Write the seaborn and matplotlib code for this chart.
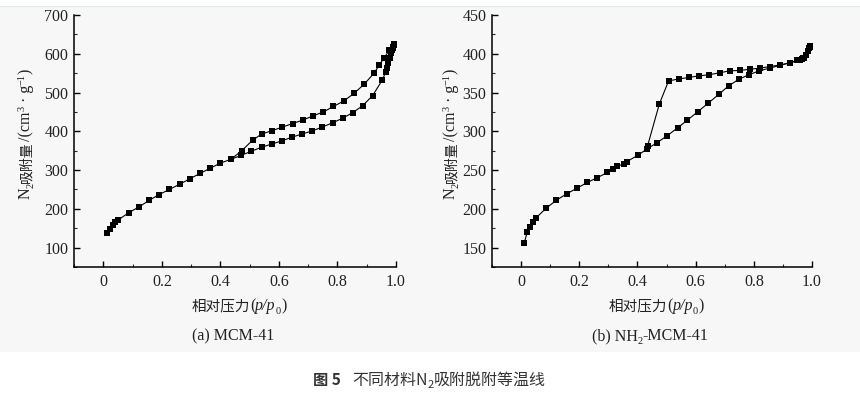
import matplotlib
matplotlib.use("Agg")
import matplotlib.pyplot as plt
from matplotlib.ticker import MultipleLocator
import seaborn as sns
import pandas as pd

# ---------------- data ----------------
# (a) MCM-41
a_ads_p = [0.013, 0.022, 0.033, 0.041, 0.052, 0.087, 0.122, 0.157, 0.191, 0.226,
           0.262, 0.297, 0.332, 0.366, 0.400, 0.437, 0.471, 0.504, 0.541, 0.575,
           0.609, 0.645, 0.679, 0.714, 0.748, 0.784, 0.818, 0.852, 0.886, 0.920,
           0.953, 0.965, 0.969, 0.974, 0.979, 0.983, 0.987, 0.991, 0.993]
a_ads_v = [138, 148, 159, 165, 172, 190, 205, 222, 237, 250,
           264, 278, 292, 305, 318, 328, 338, 348, 359, 367,
           375, 385, 393, 401, 411, 422, 434, 448, 466, 492,
           532, 553, 563, 576, 589, 602, 611, 618, 623]
a_des_p = [0.993, 0.991, 0.977, 0.960, 0.943, 0.925, 0.892, 0.857, 0.821, 0.786,
           0.752, 0.717, 0.682, 0.647, 0.612, 0.578, 0.541, 0.510, 0.473, 0.437]
a_des_v = [625, 614, 609, 590, 571, 550, 522, 498, 478, 464,
           450, 440, 429, 420, 411, 402, 393, 377, 350, 328]

# (b) NH2-MCM-41
b_ads_p = [0.011, 0.021, 0.032, 0.041, 0.052, 0.085, 0.121, 0.157, 0.192, 0.227,
           0.261, 0.297, 0.315, 0.331, 0.353, 0.364, 0.401, 0.434, 0.468, 0.503,
           0.538, 0.572, 0.608, 0.644, 0.679, 0.713, 0.748, 0.783, 0.819, 0.854,
           0.890, 0.925, 0.960, 0.970, 0.980, 0.986, 0.991, 0.993]
b_ads_v = [156, 170, 176.5, 182.5, 188.5, 200.5, 211, 219.5, 226.5, 234,
           240, 247, 251, 255, 258, 261, 269, 277.5, 285.5, 294.5,
           304.5, 314.5, 325.5, 336.5, 347.5, 358.5, 367, 373, 378, 381.5,
           385, 388.5, 392, 395, 398.5, 403, 407, 409]
b_des_p = [0.993, 0.990, 0.986, 0.980, 0.972, 0.965, 0.948, 0.925, 0.890, 0.854,
           0.822, 0.786, 0.751, 0.717, 0.683, 0.647, 0.612, 0.577, 0.542, 0.507,
           0.475, 0.435]
b_des_v = [410, 407, 403, 398.5, 395, 393, 391.5, 388.5, 385.5, 383.5,
           381.5, 380, 378.5, 378, 375.5, 373, 371.5, 369.5, 367.5, 365,
           335, 281.5]

xticks = [0, 0.2, 0.4, 0.6, 0.8, 1.0]
xtick_labels = ["0", "0.2", "0.4", "0.6", "0.8", "1.0"]
panels = [
    dict(ads_p=a_ads_p, ads_v=a_ads_v, des_p=a_des_p, des_v=a_des_v,
         ylim=(50, 700), ymaj=100, title=[("(a) MCM-41", 0, "normal", 11.5)],
         left=74, width=322, ylab_x=30),
    dict(ads_p=b_ads_p, ads_v=b_ads_v, des_p=b_des_p, des_v=b_des_v,
         ylim=(125, 450), ymaj=50,
         title=[("(b) NH", 0, "normal", 11.5), ("2", -1, "normal", 7.5),
                ("-MCM-41", 0, "normal", 11.5)],
         left=492, width=320, ylab_x=455),
]

# ---------------- figure ----------------
sns.set_theme(style="ticks")
serif = ["Liberation Serif", "Noto Sans CJK SC", "DejaVu Sans"]
plt.rcParams["font.family"] = serif

W, H = 860, 394
fig = plt.figure(figsize=(W / 100, H / 100), dpi=100)
fig.patch.set_facecolor("white")
renderer = fig.canvas.get_renderer()
txt_c = "#222222"


def compose(pieces, x, y, align="center", rotated=False, color=txt_c,
            family=serif, weight="normal"):
    """Place text pieces one after another (pixels, origin top-left).
    piece = (text, shift, style, size); shift -1 sub, +1 sup, 0 normal."""
    arts, adv = [], []
    for t, sh, st, sz in pieces:
        kw = dict(fontsize=sz, style=st, color=color, family=family,
                  weight=weight, ha="left", va="baseline")
        if rotated:
            kw.update(rotation=90, rotation_mode="anchor")
        a = fig.text(0, 0, t, **kw)
        bb = a.get_window_extent(renderer)
        arts.append((a, sh))
        adv.append(bb.height if rotated else bb.width)
    total = sum(adv)
    start = {"center": -total / 2, "left": 0, "right": -total}[align]
    pos = start
    for (a, sh), d in zip(arts, adv):
        off = {-1: 3.5, 0: 0, 1: -5.5}[sh]
        if rotated:
            px, py = x + off, y - pos  # y goes up the screen as text advances
            a.set_position((px / W, 1 - py / H))
        else:
            px, py = x + pos, y + off
            a.set_position((px / W, 1 - py / H))
        pos += d
    return arts


# light gray panel + top rule
bg = fig.add_axes([0, (H - 352) / H, 1, (352 - 6) / H])
bg.set_facecolor("#f7f7f7")
bg.set_xticks([]); bg.set_yticks([])
for s in bg.spines.values():
    s.set_visible(False)
bg.axhline(1, color="#dfe5e8", lw=1.5)
bg.set_zorder(0)

for pnl in panels:
    L, Wd = pnl["left"], pnl["width"]
    ax = fig.add_axes([L / W, (H - 267) / H, Wd / W, (267 - 15) / H])
    ax.set_facecolor("none")
    for p, v in ((pnl["ads_p"], pnl["ads_v"]), (pnl["des_p"], pnl["des_v"])):
        df = pd.DataFrame({"p": p, "v": v})
        sns.lineplot(data=df, x="p", y="v", sort=False, ax=ax, color="black",
                     lw=0.8, marker="s", markersize=4.4, markeredgewidth=0,
                     clip_on=False, estimator=None)
    ax.set_xlim(-0.1, 1.0)
    ax.set_xticks(xticks)
    ax.set_xticklabels(xtick_labels)
    ax.xaxis.set_minor_locator(MultipleLocator(0.1))
    ax.yaxis.set_major_locator(MultipleLocator(pnl["ymaj"]))
    ax.yaxis.set_minor_locator(MultipleLocator(pnl["ymaj"] / 2))
    ax.set_ylim(*pnl["ylim"])
    ax.tick_params(which="major", direction="in", length=4, width=1,
                   labelsize=11.5, colors="black", labelcolor=txt_c, pad=4)
    ax.tick_params(axis="x", which="major", pad=5)
    ax.tick_params(which="minor", direction="in", length=2.5, width=0.8)
    sns.despine(ax=ax)
    for s in ("left", "bottom"):
        ax.spines[s].set_linewidth(1.1)
        ax.spines[s].set_color("black")
    ax.set_xlabel("")
    ax.set_ylabel("")

    cx = L + Wd / 2 + 4
    # x label: 相对压力(p/p0)
    compose([("相对压力", 0, "normal", 10.5), ("(", 0, "normal", 11.5),
             ("p/p", 0, "italic", 11.5), ("0", -1, "normal", 7.5),
             (")", 0, "normal", 11.5)], cx, 310)
    # y label: N2吸附量/(cm3·g-1)
    compose([("N", 0, "normal", 11.5), ("2", -1, "normal", 7.5),
             ("吸附量", 0, "normal", 10), ("/(cm", 0, "normal", 11.5),
             ("3", 1, "normal", 7.5), (" · g", 0, "normal", 11.5),
             ("\u22121", 1, "normal", 7.5), (")", 0, "normal", 11.5)],
            pnl["ylab_x"], 134, rotated=True)
    # panel caption
    compose(pnl["title"], L + Wd / 2 - 2, 340)

# figure caption
compose([("图 5", 0, "normal", 11)], 313, 385, align="left", color="#333333",
        family=["Noto Sans CJK SC"], weight="bold")
compose([("不同材料N", 0, "normal", 11.5), ("2", -1, "normal", 8),
         ("吸附脱附等温线", 0, "normal", 11.5)], 352, 385, align="left",
        color="#333333", family=["Noto Sans CJK SC", "DejaVu Sans"])

fig.savefig("out.png", dpi=100, facecolor="white")
